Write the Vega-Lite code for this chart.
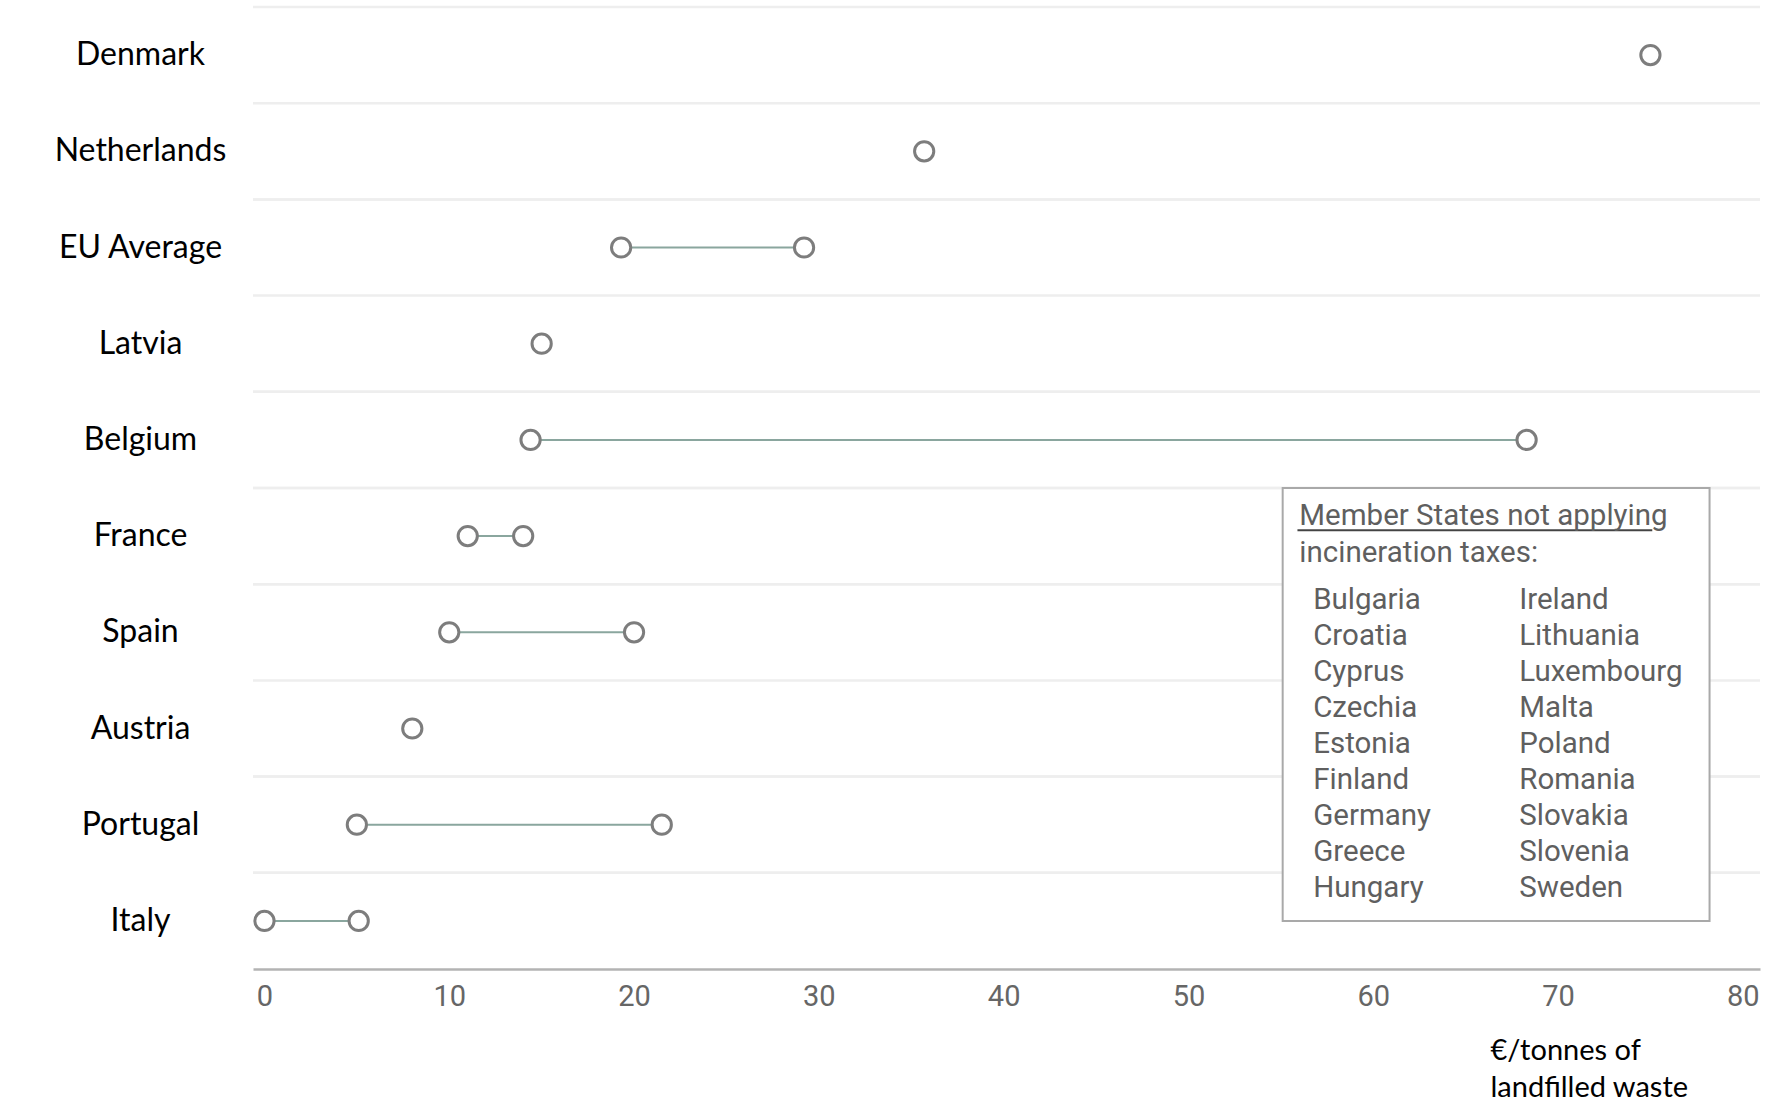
{
  "$schema": "https://vega.github.io/schema/vega-lite/v6.json",
  "width": 1507,
  "height": 962,
  "autosize": {"type": "none"},
  "padding": {"left": 253, "top": 7, "right": 12, "bottom": 133},
  "background": "white",
  "config": {"view": {"stroke": null}},
  "datasets": {
    "rates": [
      {"country": "Denmark", "tax": 75.0},
      {"country": "Netherlands", "tax": 35.7},
      {"country": "EU Average", "tax": 19.3},
      {"country": "EU Average", "tax": 29.2},
      {"country": "Latvia", "tax": 15.0},
      {"country": "Belgium", "tax": 14.4},
      {"country": "Belgium", "tax": 68.3},
      {"country": "France", "tax": 11.0},
      {"country": "France", "tax": 14.0},
      {"country": "Spain", "tax": 10.0},
      {"country": "Spain", "tax": 20.0},
      {"country": "Austria", "tax": 8.0},
      {"country": "Portugal", "tax": 5.0},
      {"country": "Portugal", "tax": 21.5},
      {"country": "Italy", "tax": 0.0},
      {"country": "Italy", "tax": 5.1}
    ],
    "noIncinerationTax": [
      {
        "heading": "Member States not applying\nincineration taxes:",
        "left": "Bulgaria\nCroatia\nCyprus\nCzechia\nEstonia\nFinland\nGermany\nGreece\nHungary",
        "right": "Ireland\nLithuania\nLuxembourg\nMalta\nPoland\nRomania\nSlovakia\nSlovenia\nSweden"
      }
    ]
  },
  "layer": [
    {
      "data": {"name": "rates"},
      "mark": {"type": "rule", "color": "#eeeeee", "strokeWidth": 2.5},
      "encoding": {
        "y": {
          "field": "country",
          "type": "nominal",
          "bandPosition": 0,
          "scale": {
            "domain": ["Denmark", "Netherlands", "EU Average", "Latvia", "Belgium", "France", "Spain", "Austria", "Portugal", "Italy"],
            "paddingInner": 0,
            "paddingOuter": 0
          },
          "axis": {
            "title": null,
            "ticks": false,
            "domain": false,
            "grid": false,
            "labelAlign": "center",
            "labelBaseline": "middle",
            "labelPadding": 113,
            "labelFont": "Lato",
            "labelFontSize": 32,
            "labelColor": "#000000"
          }
        }
      }
    },
    {
      "data": {"name": "rates"},
      "mark": {"type": "line", "color": "#8aa69e", "strokeWidth": 2},
      "encoding": {
        "x": {"field": "tax", "type": "quantitative"},
        "y": {"field": "country", "type": "nominal"},
        "detail": {"field": "country"}
      }
    },
    {
      "data": {"name": "rates"},
      "mark": {"type": "circle", "fill": "white", "stroke": "#7d7d7d", "strokeWidth": 3, "size": 370, "opacity": 1},
      "encoding": {
        "x": {
          "field": "tax",
          "type": "quantitative",
          "scale": {"domain": [-0.62, 80.93], "nice": false, "zero": false},
          "axis": {
            "values": [0, 10, 20, 30, 40, 50, 60, 70, 80],
            "grid": false,
            "ticks": false,
            "domainColor": "#b3b3b3",
            "domainWidth": 2.5,
            "labelFont": "Roboto",
            "labelFontSize": 29,
            "labelColor": "#666666",
            "labelPadding": 13,
            "labelFlush": false,
            "title": ["€/tonnes of", "landfilled waste"],
            "titleFont": "Lato",
            "titleFontSize": 29,
            "titleFontWeight": "normal",
            "titleColor": "#000000",
            "titleAlign": "left",
            "titleBaseline": "top",
            "titleX": 1237,
            "titleY": 67,
            "titleLineHeight": 37
          }
        },
        "y": {"field": "country", "type": "nominal"}
      }
    },
    {
      "data": {"name": "noIncinerationTax"},
      "mark": {"type": "rect", "fill": "white", "stroke": "#a9a9a9", "strokeWidth": 2},
      "encoding": {
        "x": {"datum": 55.1},
        "x2": {"datum": 78.2},
        "y": {"datum": "France", "bandPosition": 0},
        "y2": {"datum": "Italy", "bandPosition": 0.5}
      }
    },
    {
      "data": {"name": "noIncinerationTax"},
      "mark": {"type": "rule", "color": "#444444", "strokeWidth": 2},
      "encoding": {
        "x": {"datum": 55.9},
        "x2": {"datum": 75.1},
        "y": {"datum": "France", "bandPosition": 0.44}
      }
    },
    {
      "data": {"name": "noIncinerationTax"},
      "mark": {"type": "text", "align": "left", "baseline": "top", "font": "Roboto", "fontSize": 29.5, "color": "#5f5f5f", "lineBreak": "\n", "lineHeight": 37},
      "encoding": {
        "x": {"datum": 56.0},
        "y": {"datum": "France", "bandPosition": 0.15},
        "text": {"field": "heading"}
      }
    },
    {
      "data": {"name": "noIncinerationTax"},
      "mark": {"type": "text", "align": "left", "baseline": "top", "font": "Roboto", "fontSize": 29.5, "color": "#5f5f5f", "lineBreak": "\n", "lineHeight": 36},
      "encoding": {
        "x": {"datum": 56.75},
        "y": {"datum": "Spain", "bandPosition": 0.02},
        "text": {"field": "left"}
      }
    },
    {
      "data": {"name": "noIncinerationTax"},
      "mark": {"type": "text", "align": "left", "baseline": "top", "font": "Roboto", "fontSize": 29.5, "color": "#5f5f5f", "lineBreak": "\n", "lineHeight": 36},
      "encoding": {
        "x": {"datum": 67.9},
        "y": {"datum": "Spain", "bandPosition": 0.02},
        "text": {"field": "right"}
      }
    }
  ]
}
